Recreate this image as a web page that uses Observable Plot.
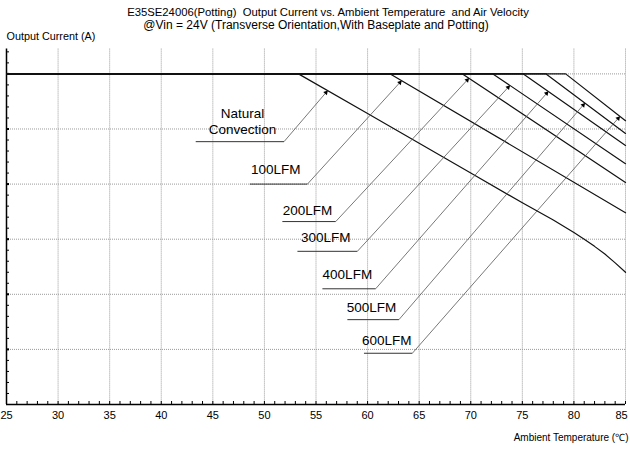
<!DOCTYPE html>
<html><head><meta charset="utf-8">
<script src="https://cdn.jsdelivr.net/npm/d3@7"></script>
<script src="https://cdn.jsdelivr.net/npm/@observablehq/plot@0.6"></script>
<style>
body{margin:0;background:#fff;}
#chart{width:630px;height:449px;}
</style></head><body><div id="chart"></div>
<script>
// ---- texts ----
const title1 = "E35SE24006(Potting)\u00a0\u00a0Output Current vs. Ambient Temperature\u00a0 and Air Velocity";
const title2 = "@Vin = 24V (Transverse Orientation,With Baseplate and Potting)";
const yTitle = "Output Current (A)";
const xTitle = "Ambient Temperature (\u2103)";
// ---- axes ----
const xTicks = [25, 30, 35, 40, 45, 50, 55, 60, 65, 70, 75, 80, 85];
const xMinorTicks = d3.range(25, 86, 1);
const yGrid = [1, 2, 3, 4, 5, 6];
const yMinorTicks = d3.range(0.2, 6.41, 0.2);
// ---- series ----
const series = ["Natural Convection", "100LFM", "200LFM", "300LFM", "400LFM", "500LFM", "600LFM"];
const ratedCurrent = 6;
const ncTemp = [25, 53.3, 60, 65, 70, 75, 78, 80, 81, 82, 83, 84, 85];
const ncCurrent = [6, 6, 5.28, 4.74, 4.20, 3.66, 3.35, 3.12, 3.00, 2.87, 2.73, 2.57, 2.40];
const lfmKneeTemp = [62.2, 69.2, 72.15, 75.1, 77.3, 79.2];
const lfmEndCurrent = [3.48, 4.03, 4.37, 4.70, 4.92, 5.15];
// ---- annotations (data coordinates) ----
const annText = ["Natural\nConvection", "100LFM", "200LFM", "300LFM", "400LFM", "500LFM", "600LFM"];
const annTextTemp = [47.87, 51.09, 54.17, 55.94, 58.04, 60.37, 61.85];
const annTextCurrent = [5.15, 4.28, 3.54, 3.05, 2.37, 1.77, 1.18];
const annLineFrom = [43.34, 48.58, 51.74, 53.2, 55.62, 58.04, 59.65];
const annLineTo = [51.90, 54.17, 56.91, 59.01, 60.78, 63.04, 64.34];
const annLineCurrent = [4.77, 4.00, 3.32, 2.78, 2.10, 1.54, 0.93];
const annArrowTemp = [56.13, 63.3, 69.83, 73.8, 77.52, 81.07, 84.46];

// ---- layout ----
const W = 630, H = 449, mL = 6, mR = 5, mT = 48.6, mB = 45;
const xDomain = [25, 85], yDomain = [0, 6.45];
const kx = (W - mL - mR) / (xDomain[1] - xDomain[0]);
const ky = (H - mT - mB) / (yDomain[1] - yDomain[0]);

const rows = [];
ncTemp.forEach((t, i) => rows.push({s: series[0], t, c: ncCurrent[i]}));
lfmKneeTemp.forEach((k, i) => {
  const s = series[i + 1];
  rows.push({s, t: xDomain[0], c: ratedCurrent}, {s, t: k, c: ratedCurrent}, {s, t: xDomain[1], c: lfmEndCurrent[i]});
});
function curveAt(s, t) {
  const pts = rows.filter(r => r.s === s);
  for (let i = 1; i < pts.length; i++) {
    if (t <= pts[i].t) { const a = pts[i-1], b = pts[i]; return a.c + (b.c - a.c) * (t - a.t) / (b.t - a.t); }
  }
  return pts[pts.length - 1].c;
}
const ann = series.map((s, i) => {
  const ta = annArrowTemp[i], ca = curveAt(s, ta);
  const tb = annLineTo[i], cb = annLineCurrent[i];
  const dxp = (ta - tb) * kx, dyp = (ca - cb) * ky;
  const len = Math.hypot(dxp, dyp), ux = dxp / len, uy = dyp / len;
  return {
    s, text: annText[i], tx: annTextTemp[i], ty: annTextCurrent[i],
    x1: annLineFrom[i], x2: tb, ly: cb, ta, ca,
    rot: Math.atan2(dxp, dyp) * 180 / Math.PI,
    hx: ta - ux * 2.6 / kx, hy: ca - uy * 2.6 / ky
  };
});
const lastTick = xTicks[xTicks.length - 1];

const font = '"Liberation Sans", Arial, Helvetica, sans-serif';
const plot = Plot.plot({
  width: W, height: H,
  marginLeft: mL, marginRight: mR, marginTop: mT, marginBottom: mB,
  x: {domain: xDomain, label: null},
  y: {domain: yDomain, label: null},
  style: {fontFamily: font, fontSize: "11px", background: "#fff", color: "#000"},
  marks: [
    Plot.gridX(xTicks.slice(1), {stroke: "#9a9a9a", strokeOpacity: 1, strokeDasharray: "1,1", strokeWidth: 1}),
    Plot.gridY(yGrid, {stroke: "#9a9a9a", strokeOpacity: 1, strokeDasharray: "1,1", strokeWidth: 1}),
    // minor ticks, drawn inside
    Plot.axisY({ticks: yMinorTicks, tickSize: 3, dx: 3, fill: "none", stroke: "#000", strokeWidth: 1}),
    Plot.axisY({ticks: yGrid, tickSize: 3, dx: 3, fill: "none", stroke: "#000", strokeWidth: 2}),
    Plot.axisX({ticks: xMinorTicks, tickSize: 3, dy: -3, fill: "none", stroke: "#000", strokeWidth: 1}),
    Plot.axisX({ticks: xTicks.slice(0, -1), tickSize: 0, tickPadding: 7, label: null, fontSize: 11}),
    Plot.axisX({ticks: [lastTick], tickSize: 0, tickPadding: 7, label: null, fontSize: 11, dx: -4}),
    Plot.ruleX([xDomain[0]], {stroke: "#000", strokeWidth: 1.5}),
    Plot.ruleY([yDomain[0]], {stroke: "#000", strokeWidth: 1.5}),
    // curves
    Plot.line(rows, {x: "t", y: "c", z: "s", stroke: "#111", strokeWidth: 1.2}),
    // annotations
    Plot.link(ann, {x1: "x1", x2: "x2", y1: "ly", y2: "ly", stroke: "#333", strokeWidth: 1}),
    Plot.link(ann, {x1: "x2", y1: "ly", x2: "ta", y2: "ca", stroke: "#555", strokeWidth: 0.8}),
    Plot.dot(ann, {x: "hx", y: "hy", symbol: "triangle2", r: 2.3, fill: "#000", stroke: "none", rotate: "rot"}),
    Plot.text(ann, {x: "tx", y: "ty", text: "text", fontSize: 13.5, lineHeight: 1.18, fill: "#000"}),
    // titles
    Plot.text([title1], {frameAnchor: "top", dx: 12, dy: -36.6, fontSize: 11.3, lineAnchor: "middle"}),
    Plot.text([title2], {frameAnchor: "top", dx: 0, dy: -23.6, fontSize: 12, lineAnchor: "middle"}),
    Plot.text([yTitle], {frameAnchor: "top-left", dx: 0, dy: -12.6, fontSize: 10.8, textAnchor: "start", lineAnchor: "middle"}),
    Plot.text([xTitle], {frameAnchor: "bottom-right", dx: 3, dy: 33, fontSize: 10, textAnchor: "end", lineAnchor: "middle"})
  ]
});
document.getElementById("chart").appendChild(plot);
</script></body></html>
